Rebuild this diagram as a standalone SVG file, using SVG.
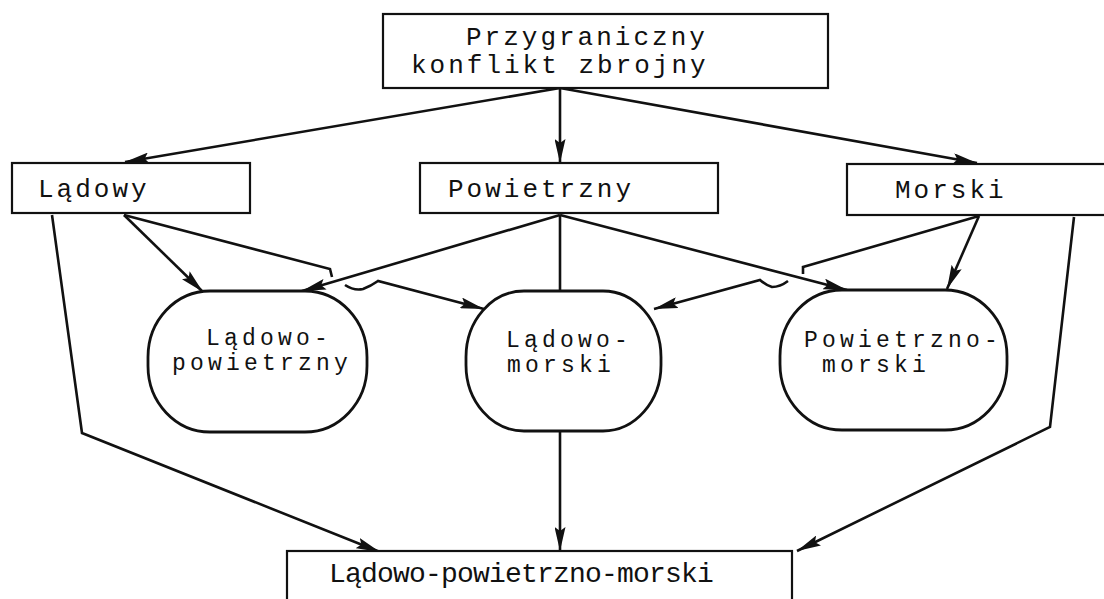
<svg xmlns="http://www.w3.org/2000/svg" width="1104" height="599" viewBox="0 0 1104 599">
<style>
.box{fill:#fff;stroke:#111;stroke-width:2.2}
.oval{fill:#fff;stroke:#111;stroke-width:2.8}
.t{font-family:"Liberation Mono","DejaVu Sans Mono",monospace;font-size:26px;letter-spacing:3px;fill:#111}
.to{font-family:"Liberation Mono","DejaVu Sans Mono",monospace;font-size:23px;letter-spacing:4.2px;fill:#111}
.tb{font-family:"Liberation Mono","DejaVu Sans Mono",monospace;font-size:28px;letter-spacing:-0.8px;fill:#111}
.c{fill:none;stroke:#111;stroke-width:2.6;stroke-linejoin:miter}
</style>
<defs>
<marker id="ah" viewBox="0 0 24 11" refX="24" refY="5.5" markerWidth="24" markerHeight="11" markerUnits="userSpaceOnUse" orient="auto">
<path d="M0,0 L24,5.5 L0,11 L4,5.5 Z" fill="#111"/>
</marker>
</defs>
<rect width="1104" height="599" fill="#fff"/>
<g id="connectors">
<path class="c" d="M560,88 L125,162" marker-end="url(#ah)"/>
<path class="c" d="M560,88 L560,163" marker-end="url(#ah)"/>
<path class="c" d="M560,88 L977,163" marker-end="url(#ah)"/>
<path class="c" d="M124,215 L203,292" marker-end="url(#ah)"/>
<path class="c" d="M124,215 L330,269 L332,277"/>
<path class="c" d="M345,285 Q354,291 363,289 Q371,286 378,281 L484,309" marker-end="url(#ah)"/>
<path class="c" d="M560,215 L302,291" marker-end="url(#ah)"/>
<path class="c" d="M560,215 L560,291"/>
<path class="c" d="M560,215 L847,290" marker-end="url(#ah)"/>
<path class="c" d="M979,216 L803,267 L803,274"/>
<path class="c" d="M788,281 Q780,287 772,287 Q766,285 760,280 L654,309" marker-end="url(#ah)"/>
<path class="c" d="M979,216 L947,289" marker-end="url(#ah)"/>
<path class="c" d="M52,215 L82,433 L380,552" marker-end="url(#ah)"/>
<path class="c" d="M1074,217 L1050,427 L797,551" marker-end="url(#ah)"/>
<path class="c" d="M560,432 L560,551" marker-end="url(#ah)"/>
</g>
<g id="n-top">
<rect class="box" x="383" y="14" width="445" height="74"/>
<text class="t" x="466" y="45">Przygraniczny</text>
<text class="t" x="411" y="73">konflikt zbrojny</text>
</g>
<g id="n-ladowy">
<rect class="box" x="12" y="163" width="238" height="50"/>
<text class="t" x="38" y="197">Lądowy</text>
</g>
<g id="n-powietrzny">
<rect class="box" x="420" y="163" width="298" height="50"/>
<text class="t" x="448" y="197">Powietrzny</text>
</g>
<g id="n-morski">
<rect class="box" x="847" y="164" width="262" height="51"/>
<text class="t" x="895" y="198">Morski</text>
</g>
<g id="n-lp">
<rect class="oval" x="148" y="291" width="219" height="141" rx="62" ry="66"/>
<text class="to" x="206" y="345">Lądowo-</text>
<text class="to" x="172" y="370">powietrzny</text>
</g>
<g id="n-lm">
<rect class="oval" x="466" y="291" width="195" height="140" rx="58" ry="66"/>
<text class="to" x="506" y="347">Lądowo-</text>
<text class="to" x="507" y="372">morski</text>
</g>
<g id="n-pm">
<rect class="oval" x="780" y="290" width="227" height="140" rx="62" ry="66"/>
<text class="to" x="804" y="347">Powietrzno-</text>
<text class="to" x="822" y="372">morski</text>
</g>
<g id="n-bottom">
<rect class="box" x="287" y="551" width="505" height="60"/>
<text class="tb" x="329" y="582">Lądowo-powietrzno-morski</text>
</g>
</svg>
